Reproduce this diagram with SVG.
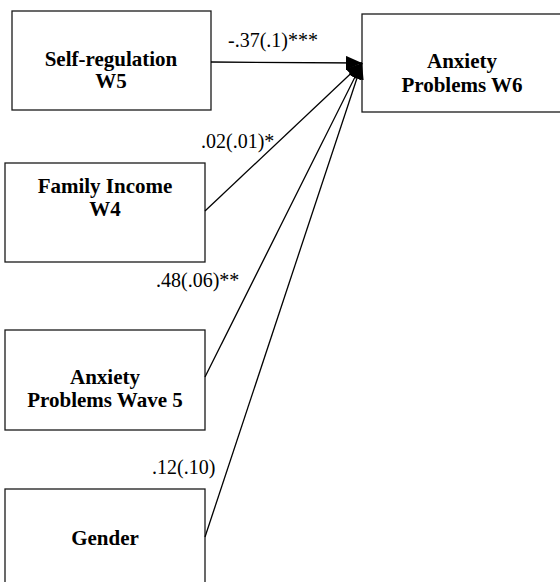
<svg xmlns="http://www.w3.org/2000/svg" width="560" height="582" viewBox="0 0 560 582">
  <style>
    .box { fill: #ffffff; stroke: #1a1a1a; stroke-width: 1.3; }
    .name { font-family: "Liberation Serif", "Times New Roman", serif; font-weight: bold; font-size: 21px; fill: #000; text-anchor: middle; }
    .coef { font-family: "Liberation Serif", "Times New Roman", serif; font-size: 20px; fill: #000; }
    .path { fill: none; stroke: #000; stroke-width: 1.3; marker-end: url(#head); }
  </style>
  <defs>
    <marker id="head" viewBox="0 0 16 14" refX="16" refY="7" markerWidth="16" markerHeight="14" markerUnits="userSpaceOnUse" orient="auto">
      <path d="M0,0 L16,7 L0,14 z" fill="#000"/>
    </marker>
  </defs>
  <rect width="560" height="582" fill="#ffffff"/>

  <!-- predictors -->
  <g id="self-regulation">
    <rect class="box" x="12" y="11" width="199" height="99"/>
    <text class="name" x="111" y="66">Self-regulation</text>
    <text class="name" x="111" y="88">W5</text>
  </g>
  <g id="family-income">
    <rect class="box" x="5" y="163" width="200" height="99"/>
    <text class="name" x="105" y="193">Family Income</text>
    <text class="name" x="105" y="216">W4</text>
  </g>
  <g id="anxiety-w5">
    <rect class="box" x="5" y="330" width="200" height="100"/>
    <text class="name" x="105" y="384">Anxiety</text>
    <text class="name" x="105" y="407">Problems Wave 5</text>
  </g>
  <g id="gender">
    <rect class="box" x="5" y="489" width="200" height="110"/>
    <text class="name" x="105" y="545">Gender</text>
  </g>

  <!-- outcome -->
  <g id="anxiety-w6">
    <rect class="box" x="362" y="14" width="210" height="98"/>
    <text class="name" x="462" y="68">Anxiety</text>
    <text class="name" x="462" y="92">Problems W6</text>
  </g>

  <!-- regression paths -->
  <g id="connectors">
    <line class="path" x1="211" y1="62" x2="362" y2="63"/>
    <line class="path" x1="205" y1="211" x2="362" y2="63"/>
    <line class="path" x1="205" y1="377" x2="362" y2="63"/>
    <line class="path" x1="205" y1="537" x2="362" y2="63"/>
    <text class="coef" x="228" y="47">-.37(.1)***</text>
    <text class="coef" x="201" y="148">.02(.01)*</text>
    <text class="coef" x="156" y="287">.48(.06)**</text>
    <text class="coef" x="152" y="474">.12(.10)</text>
  </g>
</svg>
